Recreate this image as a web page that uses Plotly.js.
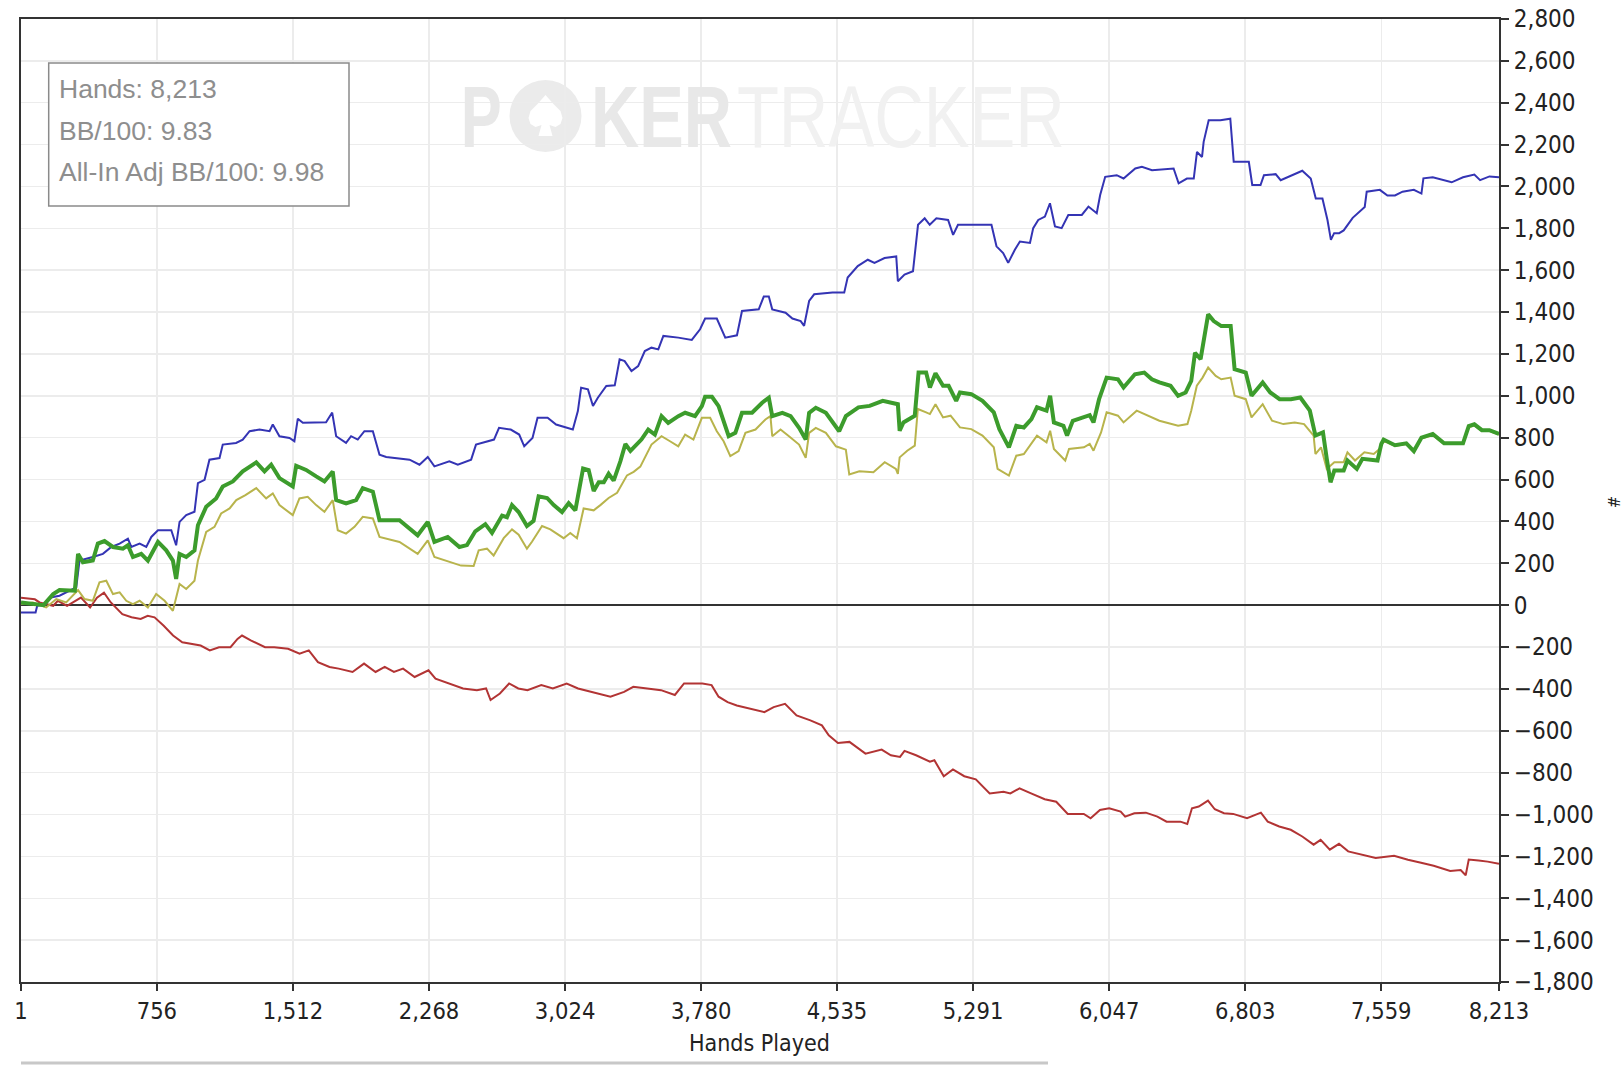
<!DOCTYPE html>
<html>
<head>
<meta charset="utf-8">
<script src="https://cdn.plot.ly/plotly-3.0.1.min.js"></script>
<style>
html,body{margin:0;padding:0;background:#fff;}
#chart{width:1624px;height:1066px;}
</style>
</head>
<body>
<div id="chart"></div>
<script>
// ---- Data ----
const xTickVals = [1, 756, 1512, 2268, 3024, 3780, 4535, 5291, 6047, 6803, 7559, 8213];
const xTickText = ["1", "756", "1,512", "2,268", "3,024", "3,780", "4,535", "5,291", "6,047", "6,803", "7,559", "8,213"];

const greenHands = [1,126,180,215,300,318,345,400,428,465,512,567,595,623,669,706,762,808,845,863,882,919,965,984,1030,1085,1122,1178,1233,1308,1354,1391,1437,1511,1530,1585,1641,1687,1733,1752,1807,1863,1900,1956,1993,2104,2205,2261,2298,2372,2437,2479,2525,2581,2618,2646,2674,2701,2729,2766,2812,2849,2877,2924,2961,3007,3044,3081,3100,3124,3155,3183,3211,3239,3266,3294,3331,3359,3387,3448,3486,3523,3560,3597,3653,3691,3746,3784,3802,3840,3877,3933,3970,4007,4063,4119,4156,4175,4231,4277,4324,4361,4380,4417,4473,4547,4584,4654,4716,4789,4873,4883,4904,4967,4988,5030,5051,5082,5124,5155,5197,5218,5281,5343,5406,5437,5490,5531,5573,5615,5646,5699,5719,5740,5793,5813,5845,5907,5939,5960,5991,6033,6096,6127,6190,6242,6284,6326,6388,6430,6472,6503,6524,6555,6576,6597,6628,6670,6722,6744,6806,6838,6900,6942,6994,7057,7109,7162,7193,7235,7256,7277,7298,7350,7371,7423,7454,7538,7559,7572,7635,7698,7740,7782,7845,7908,8013,8045,8076,8118,8160,8213];
const greenValues = [13,0,53,72,69,245,205,213,294,306,278,270,286,230,245,213,302,262,213,125,245,230,262,382,470,510,567,591,639,682,639,671,607,567,666,646,615,591,639,502,486,502,559,542,406,406,334,398,302,326,278,287,353,387,345,387,428,420,478,445,378,403,520,512,478,445,487,453,537,653,645,545,587,587,628,595,687,770,737,791,839,815,903,871,903,919,903,951,995,995,951,807,823,919,919,967,991,903,919,903,847,791,919,943,919,831,903,945,952,976,960,833,873,905,1111,1111,1040,1108,1048,1048,976,1016,1008,976,921,841,754,857,849,889,945,929,1000,873,857,810,881,897,908,873,984,1087,1079,1040,1103,1111,1079,1064,1048,1000,1016,1071,1206,1175,1286,1389,1357,1333,1333,1127,1111,1000,1064,1016,984,984,992,929,810,825,699,587,643,643,691,651,699,691,770,791,764,773,736,800,818,773,773,855,864,836,836,818];

const yellowHands = [1,67,141,197,252,318,354,400,437,475,512,549,586,623,660,706,752,799,845,882,919,965,984,1030,1076,1113,1160,1197,1248,1308,1363,1400,1437,1511,1548,1594,1641,1687,1733,1761,1807,1854,1900,1956,1993,2104,2205,2261,2298,2381,2446,2516,2544,2590,2627,2683,2729,2766,2812,2840,2896,2942,3016,3053,3090,3127,3183,3220,3266,3313,3368,3405,3442,3504,3560,3607,3653,3691,3737,3784,3830,3867,3905,3942,3988,4026,4082,4137,4165,4175,4221,4268,4324,4361,4380,4417,4473,4529,4584,4603,4659,4737,4800,4862,4873,4883,4925,4967,4984,5030,5051,5082,5124,5166,5218,5281,5343,5406,5427,5490,5531,5573,5615,5646,5699,5719,5740,5803,5824,5907,5939,5960,6002,6033,6096,6127,6200,6263,6326,6430,6482,6503,6534,6566,6597,6639,6670,6722,6744,6806,6838,6900,6952,7015,7078,7130,7183,7193,7224,7256,7298,7350,7371,7413,7465,7517,7549,7572,7635,7698,7740,7782,7845,7908,8013,8045,8076,8118,8160,8213];
const yellowValues = [5,13,-11,29,13,72,29,21,109,117,53,61,21,5,21,-11,53,21,-27,101,77,117,213,350,374,438,462,502,526,559,510,534,478,430,510,518,478,446,502,358,342,374,422,414,326,302,245,310,230,205,189,187,262,270,237,320,362,337,270,303,378,362,320,345,320,462,453,478,512,537,620,637,662,767,807,783,759,815,791,895,895,831,783,712,736,823,839,887,903,807,839,807,767,704,823,847,823,759,743,624,640,635,683,651,627,706,738,762,937,921,913,960,897,905,849,841,810,754,651,619,714,722,770,810,778,833,746,691,746,754,770,738,825,921,905,873,929,905,881,857,865,929,1048,1087,1135,1095,1079,1087,1000,984,897,960,881,865,873,865,810,722,754,651,683,683,730,691,730,722,746,785,760,770,732,796,812,770,770,850,858,832,832,815];

const blueHands = [1,82,91,137,165,215,308,326,400,456,503,549,595,614,660,697,725,762,836,863,882,919,965,984,1021,1048,1104,1122,1196,1233,1271,1326,1382,1400,1437,1493,1520,1539,1567,1696,1730,1752,1807,1835,1872,1909,1956,1993,2030,2160,2215,2261,2298,2381,2428,2502,2529,2629,2657,2722,2769,2797,2843,2871,2927,2974,3067,3095,3113,3151,3179,3206,3253,3300,3327,3355,3393,3430,3467,3504,3542,3570,3653,3728,3774,3802,3867,3914,3979,4007,4100,4128,4156,4175,4249,4287,4333,4352,4380,4408,4510,4575,4594,4650,4706,4743,4799,4864,4873,4910,4957,4985,5022,5050,5087,5152,5180,5207,5393,5421,5458,5486,5523,5551,5607,5625,5653,5690,5718,5746,5783,5820,5895,5932,5978,5997,6025,6089,6127,6192,6229,6285,6405,6433,6479,6517,6535,6563,6572,6600,6665,6720,6739,6823,6842,6888,6907,6972,7000,7046,7120,7167,7195,7232,7260,7279,7297,7325,7350,7400,7440,7467,7478,7551,7593,7635,7677,7740,7782,7793,7845,7950,8013,8076,8108,8160,8213];
const blueValues = [-35,-35,-3,5,37,45,85,213,230,245,278,294,318,278,294,278,326,358,358,286,398,430,446,583,599,695,703,767,775,791,831,839,831,863,807,799,783,891,871,874,920,807,775,807,791,831,831,719,708,695,671,708,663,687,671,695,767,791,847,839,815,759,799,895,895,863,839,927,1039,1031,951,991,1047,1050,1174,1166,1118,1142,1214,1230,1222,1286,1278,1267,1318,1369,1369,1278,1289,1405,1413,1474,1474,1413,1397,1369,1357,1334,1453,1485,1493,1493,1565,1620,1650,1635,1658,1666,1547,1579,1595,1817,1848,1817,1848,1840,1769,1817,1817,1714,1682,1635,1698,1737,1730,1801,1840,1856,1920,1809,1801,1864,1864,1904,1872,1959,2046,2054,2038,2086,2094,2078,2086,2015,2038,2038,2165,2141,2213,2316,2316,2324,2118,2118,2007,2007,2054,2059,2030,2046,2075,2038,1943,1943,1840,1745,1777,1777,1790,1850,1880,1902,1975,1984,1957,1957,1975,1984,1966,2039,2044,2020,2044,2057,2030,2048,2044];

const redHands = [1,78,104,180,206,257,334,385,423,462,500,564,615,666,705,743,794,846,897,961,999,1050,1101,1165,1204,1229,1280,1357,1408,1485,1549,1600,1651,1715,1766,1843,1907,1971,2022,2073,2124,2188,2265,2304,2380,2457,2534,2585,2610,2662,2713,2764,2815,2892,2956,3033,3096,3173,3276,3352,3403,3480,3557,3634,3685,3787,3838,3877,3927,3978,4055,4131,4183,4246,4310,4387,4451,4489,4540,4604,4693,4783,4834,4885,4910,4974,5051,5076,5128,5179,5242,5306,5383,5460,5498,5549,5613,5689,5753,5817,5906,5944,5996,6047,6111,6136,6187,6251,6315,6366,6443,6481,6507,6545,6596,6634,6685,6736,6813,6890,6928,6992,7056,7120,7183,7222,7273,7324,7375,7452,7528,7630,7707,7780,7850,7942,8000,8028,8045,8100,8150,8213];
const redValues = [36,28,13,-3,21,-3,36,-11,36,60,13,-43,-58,-66,-51,-58,-98,-145,-177,-185,-193,-216,-201,-201,-161,-145,-169,-201,-201,-208,-232,-216,-272,-295,-303,-319,-279,-319,-295,-319,-303,-343,-311,-351,-374,-398,-406,-398,-453,-422,-374,-398,-406,-382,-398,-374,-398,-414,-437,-414,-390,-398,-406,-429,-374,-374,-382,-437,-463,-479,-495,-511,-487,-471,-527,-550,-574,-622,-658,-653,-709,-690,-717,-725,-696,-717,-748,-741,-817,-785,-817,-832,-899,-891,-899,-875,-899,-927,-939,-997,-997,-1018,-978,-970,-986,-1010,-994,-991,-1010,-1034,-1034,-1045,-970,-962,-934,-975,-994,-997,-1018,-991,-1034,-1057,-1073,-1105,-1144,-1121,-1168,-1140,-1176,-1192,-1208,-1197,-1216,-1230,-1245,-1270,-1265,-1290,-1215,-1220,-1225,-1235];

const statLines = ["Hands: 8,213", "BB/100: 9.83", "All-In Adj BB/100: 9.98"];
const watermarkParts = ["P", "KER", "TRACKER"];

// ---- Layout helpers (decoration only) ----
const W = 1624, H = 1066, M = {l: 21, r: 125, t: 19, b: 84};
const PW = W - M.l - M.r, PH = H - M.t - M.b;
const px = x => (x - M.l) / PW;          // page pixel -> paper x
const py = y => (H - M.b - y) / PH;      // page pixel -> paper y

// spade glyph inside the watermark chip
const chipC = [545.5, 116];
const spadePts = [[0,-21],[8,-12],[15,-5],[17,2],[15,8],[10,11],[4,9],[7,20],[-7,20],[-4,9],[-10,11],[-15,8],[-17,2],[-15,-5],[-8,-12]];
const spadePath = spadePts.map((p, i) => (i ? 'L' : 'M') + px(chipC[0] + p[0]).toFixed(5) + ',' + py(chipC[1] + p[1]).toFixed(5)).join(' ') + ' Z';

const tickFontFamily = "'DejaVu Sans Condensed', 'DejaVu Sans', Verdana, sans-serif";
const wmFont = "'Liberation Sans', Arial, sans-serif";

const traces = [
  {x: redHands, y: redValues, type: 'scatter', mode: 'lines', line: {color: '#b23434', width: 2}, hoverinfo: 'skip'},
  {x: blueHands, y: blueValues, type: 'scatter', mode: 'lines', line: {color: '#3434b4', width: 2}, hoverinfo: 'skip'},
  {x: yellowHands, y: yellowValues, type: 'scatter', mode: 'lines', line: {color: '#b8b44c', width: 2}, hoverinfo: 'skip'},
  {x: greenHands, y: greenValues, type: 'scatter', mode: 'lines', line: {color: '#3c9c2c', width: 4}, hoverinfo: 'skip'}
];

const statAnnotations = statLines.map((t, i) => ({
  xref: 'paper', yref: 'paper', x: px(57), y: py(89 + i * 41.5),
  xanchor: 'left', yanchor: 'middle', showarrow: false, text: t,
  font: {family: wmFont, size: 26.5, color: '#8e8e8e'}
}));

// watermark pieces: [centre x px, target width px, weight, colour]
const wmGeom = [[481.5, 41, 'bold', '#e8e8e8'], [661.5, 141, 'bold', '#e8e8e8'], [901, 328, 'normal', '#f1f1f1']];
const wmBaseSize = 64, wmTargetSize = 88, wmCentreY = 117;
const wmAnnotations = watermarkParts.map((t, i) => ({
  xref: 'paper', yref: 'paper', x: px(wmGeom[i][0]), y: py(wmCentreY),
  xanchor: 'center', yanchor: 'middle', showarrow: false, text: t,
  font: {family: wmFont, size: wmBaseSize, weight: wmGeom[i][2], color: wmGeom[i][3]}
}));

const layout = {
  width: W, height: H,
  margin: M,
  paper_bgcolor: '#ffffff', plot_bgcolor: '#ffffff',
  showlegend: false,
  xaxis: {
    range: [1, 8213],
    tickvals: xTickVals, ticktext: xTickText,
    showgrid: true, gridcolor: '#ececec', gridwidth: 1.5,
    zeroline: false,
    showline: true, linecolor: '#333333', linewidth: 2, mirror: true,
    ticks: 'outside', ticklen: 7, tickwidth: 2, tickcolor: '#333333',
    tickfont: {family: tickFontFamily, size: 23.5, color: '#222222'}
  },
  yaxis: {
    side: 'right',
    range: [-1800, 2800], dtick: 200, tick0: 0,
    tickformat: ',',
    showgrid: true, gridcolor: '#ececec', gridwidth: 1.5,
    zeroline: true, zerolinecolor: '#333333', zerolinewidth: 2,
    showline: true, linecolor: '#333333', linewidth: 2, mirror: true,
    ticks: 'outside', ticklen: 8, tickwidth: 2, tickcolor: '#333333',
    tickfont: {family: tickFontFamily, size: 24, color: '#222222'}
  },
  shapes: [
    {type: 'rect', xref: 'paper', yref: 'paper', x0: px(48.7), x1: px(349), y0: py(206), y1: py(63),
     fillcolor: '#ffffff', line: {color: '#8a8a8a', width: 1.5}, layer: 'above'},
    {type: 'circle', xref: 'paper', yref: 'paper', x0: px(509.5), x1: px(581.5), y0: py(152), y1: py(80),
     fillcolor: '#ebebeb', line: {width: 0}, layer: 'below'},
    {type: 'path', xref: 'paper', yref: 'paper', path: spadePath,
     fillcolor: '#ffffff', line: {width: 0}, layer: 'below'},
    {type: 'line', xref: 'paper', yref: 'paper', x0: px(21), x1: px(1048), y0: py(1063), y1: py(1063),
     line: {color: '#c8c8c8', width: 3}}
  ],
  annotations: [
    ...statAnnotations,
    ...wmAnnotations,
    {xref: 'paper', yref: 'paper', x: px(759), y: py(1043), xanchor: 'center', yanchor: 'middle', showarrow: false,
     text: 'Hands Played', font: {family: tickFontFamily, size: 23, color: '#222222'}},
    {xref: 'paper', yref: 'paper', x: px(1613), y: py(502), xanchor: 'center', yanchor: 'middle', showarrow: false,
     text: '#', textangle: 90, font: {family: tickFontFamily, size: 16, color: '#222222'}}
  ]
};

Plotly.newPlot('chart', traces, layout, {displayModeBar: false, staticPlot: true}).then(gd => {
  // stretch the watermark words into the tall, narrow letters of the original logo
  gd.querySelectorAll('.annotation-text').forEach(el => {
    const idx = watermarkParts.indexOf(el.textContent);
    if (idx < 0) return;
    const bb = el.getBBox();
    const cx = bb.x + bb.width / 2, cy = bb.y + bb.height / 2;
    const sx = wmGeom[idx][1] / bb.width, sy = wmTargetSize / wmBaseSize;
    const prev = el.getAttribute('transform') || '';
    el.setAttribute('transform', prev + ' translate(' + cx + ',' + cy + ') scale(' + sx + ',' + sy + ') translate(' + (-cx) + ',' + (-cy) + ')');
  });
});
</script>
</body>
</html>
